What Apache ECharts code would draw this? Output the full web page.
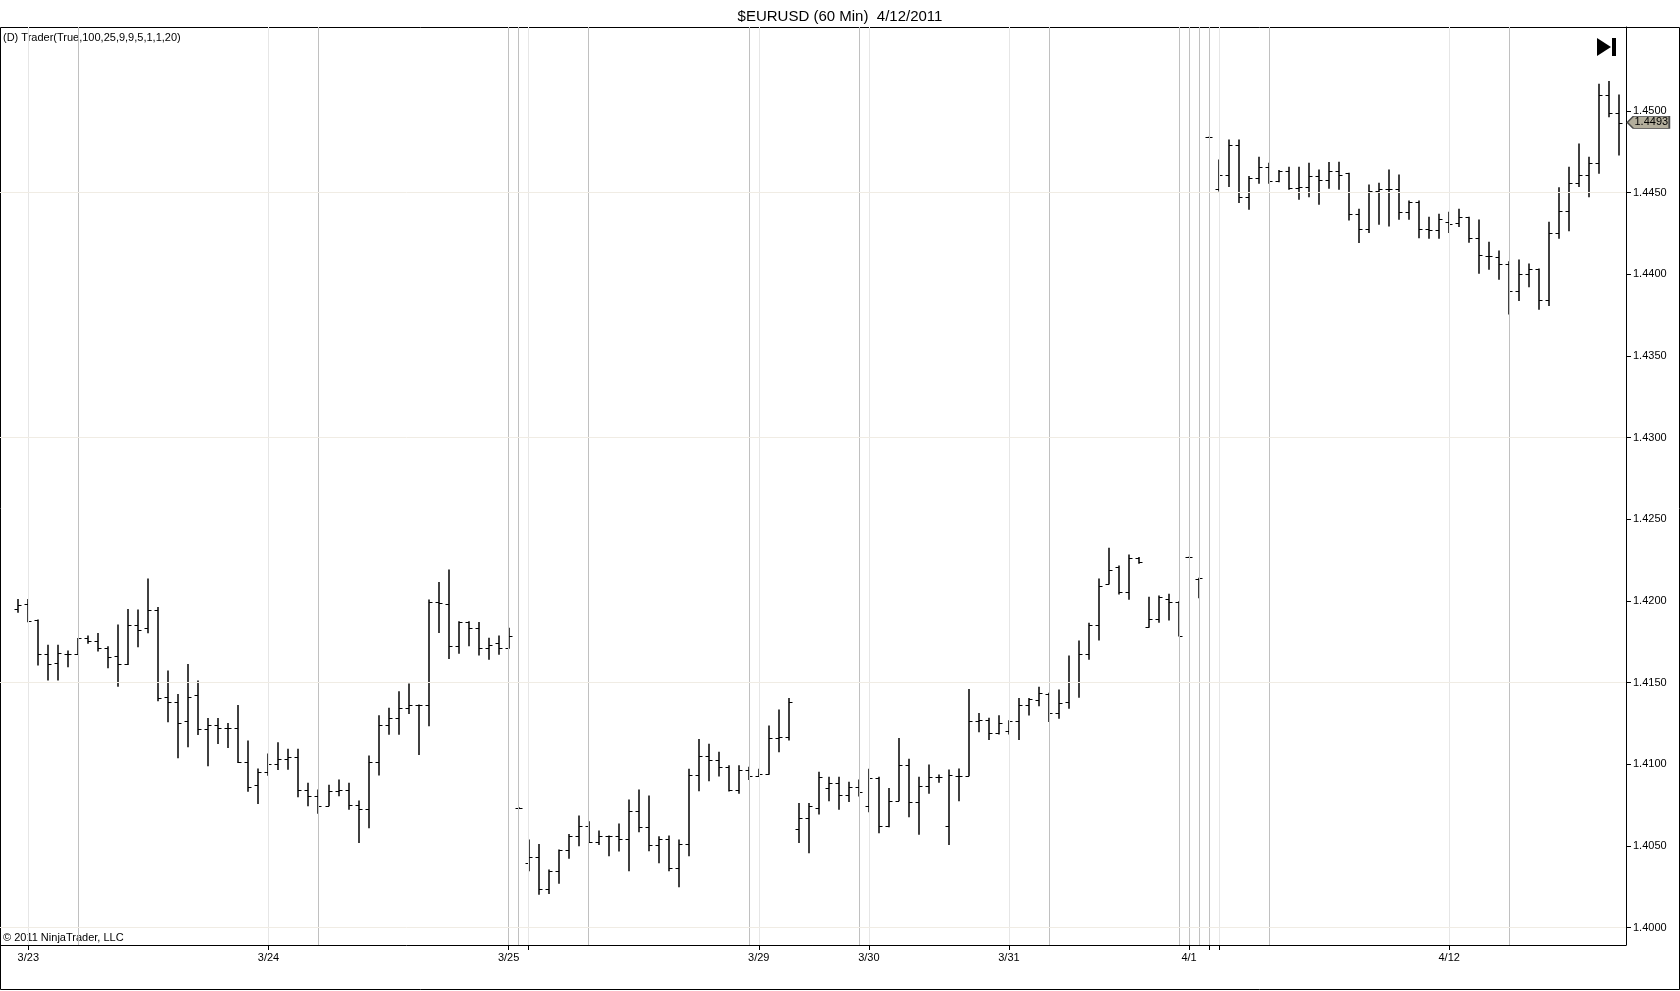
<!DOCTYPE html>
<html>
<head>
<meta charset="utf-8">
<title>$EURUSD (60 Min) 4/12/2011</title>
<script src="https://cdn.jsdelivr.net/npm/echarts@6/dist/echarts.min.js"></script>
<style>
  html, body { margin: 0; padding: 0; background: #fff; }
  #chart { width: 1680px; height: 991px; }
</style>
</head>
<body>
<div id="chart"></div>
<script>
// 60 min bars, index 0 = first bar on the chart
var opens = [
  1.41948,1.41979,1.41881,1.41672,1.41617,1.41672,1.41672,1.41770,1.41754,1.41713,
  1.41662,1.41611,1.41852,1.41832,1.41944,1.41409,1.41380,1.41262,1.41421,1.41213,
  1.41240,1.41219,1.41219,1.41011,1.40870,1.40952,1.41003,1.41032,1.41042,1.40842,
  1.40807,1.40746,1.40836,1.40842,1.40750,1.40724,1.41013,1.41240,1.41281,1.41342,
  1.41363,1.41363,1.41991,1.41981,1.41726,1.41873,1.41832,1.41710,1.41740,1.41710,
  1.40734,1.40393,1.40430,1.40234,1.40346,1.40475,1.40562,1.40622,1.40521,1.40560,
  1.40560,1.40540,1.40713,1.40615,1.40505,1.40544,1.40366,1.40509,1.40934,1.41048,
  1.41024,1.40981,1.40842,1.40964,1.40930,1.40938,1.41158,1.41169,1.40601,1.40668,
  1.40730,1.40852,1.40883,1.40809,1.40858,1.40744,1.40914,1.40622,1.40777,1.40993,
  1.40771,1.40868,1.40920,1.40622,1.40930,1.40930,1.41264,1.41271,1.41189,1.41203,
  1.41264,1.41362,1.41393,1.41430,1.41312,1.41379,1.41501,1.41675,1.41852,1.42103,
  1.42206,1.42052,1.42261,1.41838,1.41887,1.42010,1.41991,1.42267,1.42134,1.44839,
  1.44520,1.44606,1.44792,1.44475,1.44588,1.44655,1.44573,1.44633,1.44526,1.44537,
  1.44602,1.44577,1.44633,1.44618,1.44367,1.44277,1.44510,1.44520,1.44520,1.44379,
  1.44445,1.44277,1.44271,1.44318,1.44316,1.44349,1.44220,1.44112,1.44108,1.44063,
  1.43900,1.44002,1.44032,1.43843,1.44251,1.44388,1.44557,1.44608,1.44680,1.45098,
  1.44986
];
var highs = [
  1.42009,1.42009,1.41883,1.41729,1.41729,1.41693,1.41770,1.41785,1.41801,1.41719,
  1.41852,1.41948,1.41944,1.42134,1.41960,1.41570,1.41427,1.41611,1.41509,1.41280,
  1.41280,1.41250,1.41360,1.41142,1.40970,1.41062,1.41131,1.41091,1.41091,1.40883,
  1.40842,1.40871,1.40903,1.40883,1.40775,1.41050,1.41297,1.41342,1.41444,1.41491,
  1.41363,1.42006,1.42112,1.42189,1.41873,1.41873,1.41867,1.41771,1.41785,1.41832,
  1.40734,1.40536,1.40509,1.40352,1.40475,1.40570,1.40683,1.40648,1.40591,1.40560,
  1.40634,1.40781,1.40842,1.40805,1.40556,1.40560,1.40536,1.40969,1.41152,1.41122,
  1.41073,1.40991,1.40991,1.40981,1.40969,1.41234,1.41332,1.41403,1.40760,1.40760,
  1.40950,1.40920,1.40920,1.40889,1.40903,1.40969,1.40920,1.40852,1.41158,1.41030,
  1.40920,1.40995,1.40934,1.40964,1.40971,1.41458,1.41311,1.41281,1.41297,1.41266,
  1.41403,1.41403,1.41471,1.41434,1.41454,1.41663,1.41754,1.41863,1.42134,1.42322,
  1.42214,1.42281,1.42265,1.42022,1.42030,1.42040,1.41995,1.42267,1.42138,1.44839,
  1.44700,1.44822,1.44822,1.44598,1.44716,1.44680,1.44635,1.44655,1.44655,1.44680,
  1.44639,1.44684,1.44686,1.44618,1.44398,1.44547,1.44557,1.44639,1.44608,1.44449,
  1.44449,1.44349,1.44367,1.44379,1.44398,1.44349,1.44332,1.44196,1.44143,1.44077,
  1.44088,1.44063,1.44032,1.44318,1.44530,1.44655,1.44798,1.44716,1.45163,1.45180,
  1.45098
];
var lows = [
  1.41930,1.41872,1.41607,1.41515,1.41515,1.41597,1.41672,1.41740,1.41693,1.41591,
  1.41478,1.41611,1.41719,1.41805,1.41389,1.41260,1.41040,1.41107,1.41182,1.40991,
  1.41127,1.41103,1.41011,1.40835,1.40760,1.40933,1.40968,1.40969,1.40801,1.40746,
  1.40699,1.40746,1.40807,1.40724,1.40520,1.40611,1.40934,1.41183,1.41183,1.41311,
  1.41060,1.41236,1.41806,1.41648,1.41679,1.41726,1.41669,1.41642,1.41673,1.41710,
  1.40734,1.40348,1.40203,1.40209,1.40271,1.40424,1.40501,1.40521,1.40509,1.40440,
  1.40468,1.40348,1.40587,1.40470,1.40397,1.40348,1.40250,1.40440,1.40838,1.40899,
  1.40928,1.40836,1.40822,1.40907,1.40930,1.40938,1.41077,1.41148,1.40520,1.40458,
  1.40695,1.40777,1.40724,1.40771,1.40805,1.40709,1.40581,1.40617,1.40777,1.40679,
  1.40571,1.40822,1.40889,1.40509,1.40777,1.40930,1.41199,1.41152,1.41185,1.41185,
  1.41152,1.41301,1.41358,1.41261,1.41281,1.41342,1.41410,1.41642,1.41761,1.42103,
  1.42042,1.42010,1.42230,1.41838,1.41869,1.41883,1.41785,1.42267,1.42020,1.44839,
  1.44510,1.44537,1.44439,1.44398,1.44557,1.44557,1.44567,1.44520,1.44459,1.44475,
  1.44428,1.44526,1.44520,1.44333,1.44194,1.44255,1.44306,1.44296,1.44337,1.44337,
  1.44224,1.44220,1.44220,1.44255,1.44292,1.44196,1.44006,1.44030,1.43969,1.43757,
  1.43839,1.43924,1.43786,1.43808,1.44220,1.44267,1.44537,1.44475,1.44618,1.44965,
  1.44731
];
var closes = [
  1.41974,1.41879,1.41672,1.41611,1.41678,1.41676,1.41770,1.41754,1.41709,1.41658,
  1.41611,1.41852,1.41821,1.41944,1.41407,1.41380,1.41250,1.41413,1.41213,1.41240,
  1.41219,1.41219,1.41011,1.40860,1.40954,1.41001,1.41030,1.41042,1.40842,1.40807,
  1.40746,1.40836,1.40842,1.40750,1.40724,1.41013,1.41240,1.41281,1.41342,1.41363,
  1.41363,1.41991,1.41985,1.41726,1.41873,1.41832,1.41710,1.41730,1.41710,1.41787,
  1.40734,1.40430,1.40234,1.40346,1.40475,1.40562,1.40622,1.40521,1.40560,1.40560,
  1.40540,1.40713,1.40615,1.40505,1.40544,1.40366,1.40509,1.40934,1.41048,1.41024,
  1.40981,1.40842,1.40964,1.40930,1.40938,1.41158,1.41169,1.41379,1.40668,1.40744,
  1.40920,1.40883,1.40809,1.40858,1.40832,1.40914,1.40622,1.40777,1.40993,1.40771,
  1.40868,1.40920,1.40920,1.40934,1.40930,1.41264,1.41271,1.41189,1.41250,1.41264,
  1.41362,1.41397,1.41434,1.41316,1.41373,1.41501,1.41675,1.41852,1.42091,1.42189,
  1.42052,1.42261,1.42240,1.41887,1.42026,1.41995,1.41785,1.42267,1.42138,1.44839,
  1.44606,1.44792,1.44475,1.44588,1.44655,1.44573,1.44633,1.44526,1.44537,1.44602,
  1.44577,1.44633,1.44606,1.44367,1.44277,1.44510,1.44520,1.44520,1.44379,1.44445,
  1.44277,1.44271,1.44339,1.44308,1.44349,1.44220,1.44118,1.44112,1.44063,1.43900,
  1.44002,1.44032,1.43843,1.44251,1.44388,1.44557,1.44608,1.44680,1.45098,1.44986,
  1.44929
];

// date labels and the bar they sit on
var dateLabels = ['3/23','3/24','3/25','3/29','3/30','3/31','4/1','4/12'];
var dateIdx = [1, 25, 49, 74, 85, 99, 117, 143];
var extraTickIdx = [51, 119, 120];          // ticks without a label
var sessionLines = [6, 30, 49, 50, 57, 73, 84, 103, 116, 117, 118, 119, 125, 149];  // Trader() markers
var priceTicks = [1.4000,1.4050,1.4100,1.4150,1.4200,1.4250,1.4300,1.4350,1.4400,1.4450,1.4500];
var priceGrid = [1.4000, 1.4150, 1.4300, 1.4450];
var lastPrice = 1.4493;

var FONT = '"Liberation Sans", Arial, sans-serif';

var bars = [];
for (var i = 0; i < opens.length; i++) {
  bars.push([i, opens[i], highs[i], lows[i], closes[i]]);
}

var allTicks = dateIdx.concat(extraTickIdx).sort(function (a, b) { return a - b; });

function renderBar(params, api) {
  var x = api.value(0);
  var o = api.coord([x, api.value(1)]);
  var h = api.coord([x, api.value(2)]);
  var l = api.coord([x, api.value(3)]);
  var c = api.coord([x, api.value(4)]);
  var px = Math.round(h[0]);
  var oy = Math.round(o[1]) + 0.5, cy = Math.round(c[1]) + 0.5;
  var st = { stroke: '#000', lineWidth: 1.5 };
  var tk = { stroke: '#000', lineWidth: 1 };
  return {
    type: 'group',
    children: [
      { type: 'line', shape: { x1: px, y1: h[1] - 0.5, x2: px, y2: l[1] + 0.5 }, style: st },
      { type: 'line', shape: { x1: px - 3.5, y1: oy, x2: px, y2: oy }, style: tk },
      { type: 'line', shape: { x1: px, y1: cy, x2: px + 3.5, y2: cy }, style: tk }
    ]
  };
}

var chart = echarts.init(document.getElementById('chart'));

chart.setOption({
  animation: false,
  backgroundColor: '#fff',
  title: {
    text: '$EURUSD (60 Min)  4/12/2011',
    left: 'center',
    top: 4,
    textStyle: { fontFamily: FONT, fontSize: 15, fontWeight: 'normal', color: '#000' }
  },
  grid: { left: 0, right: 54, top: 27, bottom: 46 },
  xAxis: {
    type: 'value',
    min: -1.83,
    max: 160.67,
    splitLine: { show: false },
    axisLine: { onZero: false, lineStyle: { color: '#000', width: 1 } },
    axisTick: { customValues: allTicks, length: 5, lineStyle: { color: '#000' } },
    axisLabel: {
      customValues: dateIdx,
      margin: 7,
      fontFamily: FONT,
      fontSize: 11,
      color: '#000',
      formatter: function (v) {
        var k = dateIdx.indexOf(Math.round(v));
        return k >= 0 ? dateLabels[k] : '';
      }
    }
  },
  yAxis: {
    type: 'value',
    position: 'right',
    min: 1.39893,
    max: 1.45514,
    scale: true,
    splitLine: { show: false },
    axisLine: { show: true, onZero: false, lineStyle: { color: '#000', width: 1 } },
    axisTick: { show: true, customValues: priceTicks, length: 5, lineStyle: { color: '#000' } },
    axisLabel: {
      customValues: priceTicks,
      margin: 7,
      fontFamily: FONT,
      fontSize: 11,
      color: '#000',
      formatter: function (v) { return v.toFixed(4); }
    }
  },
  series: [
    {
      // date lines, session marker lines and faint price grid
      type: 'line',
      data: [],
      z: 1,
      silent: true,
      markLine: {
        silent: true,
        symbol: 'none',
        precision: 6,   // default 2 would round 1.4450 -> 1.45
        label: { show: false },
        animation: false,
        data: allTicks.map(function (d) {
          return { xAxis: d, lineStyle: { color: '#e6e6e6', width: 1, type: 'solid' } };
        }).concat(sessionLines.map(function (d) {
          return { xAxis: d, lineStyle: { color: '#c0c0c0', width: 1, type: 'solid' } };
        })).concat(priceGrid.map(function (p) {
          return { yAxis: p, lineStyle: { color: '#f0ece4', width: 1, type: 'solid' } };
        }))
      }
    },
    {
      name: '$EURUSD',
      type: 'custom',
      z: 3,
      renderItem: renderBar,
      encode: { x: 0, y: [1, 2, 3, 4] },
      data: bars,
      markPoint: {
        silent: true,
        animation: false,
        symbol: 'path://M0,6 L6,0 L42,0 L42,12 L6,12 Z',
        symbolSize: [42, 12],
        symbolOffset: [29, 0],
        itemStyle: { color: '#b3ae9c', borderColor: '#4a4a4a', borderWidth: 1 },
        label: {
          show: true,
          position: 'inside',
          offset: [3, 0],
          fontFamily: FONT,
          fontSize: 11,
          color: '#000',
          formatter: function () { return lastPrice.toFixed(4); }
        },
        data: [{ coord: [opens.length - 1, lastPrice] }]
      }
    }
  ],
  graphic: [
    {
      type: 'rect',
      z: 0,
      silent: true,
      shape: { x: 0.5, y: 27.5, width: 1679, height: 962 },
      style: { fill: 'none', stroke: '#000', lineWidth: 1 }
    },
    {
      type: 'text',
      left: 3,
      top: 32,
      style: { text: '(D) Trader(True,100,25,9,9,5,1,1,20)', font: '11px ' + FONT, fill: '#000' }
    },
    {
      type: 'text',
      left: 3,
      top: 932,
      style: { text: '\u00a9 2011 NinjaTrader, LLC', font: '11px ' + FONT, fill: '#000' }
    },
    {
      // scroll-to-end button
      type: 'polygon',
      shape: { points: [[1597, 38], [1597, 56], [1611, 47]] },
      style: { fill: '#000' }
    },
    {
      type: 'rect',
      shape: { x: 1612, y: 38, width: 4, height: 18 },
      style: { fill: '#000' }
    }
  ]
});
</script>
</body>
</html>
